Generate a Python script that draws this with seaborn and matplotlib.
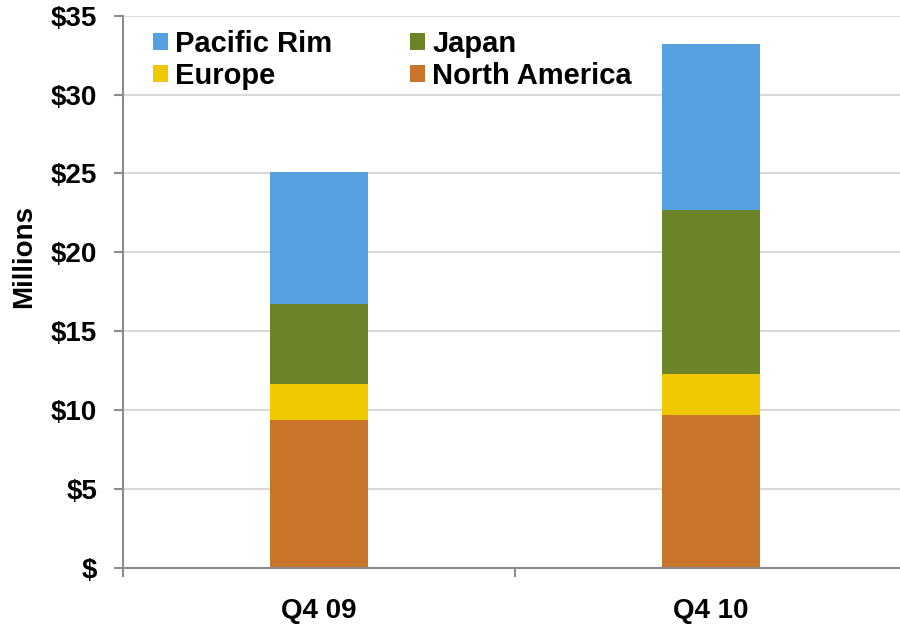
import matplotlib
matplotlib.use("Agg")
import matplotlib.pyplot as plt
from matplotlib.patches import Patch
from matplotlib.ticker import FixedLocator
import numpy as np
import pandas as pd
import seaborn as sns

# Quarterly revenue by region, in millions of dollars
quarters = ["Q4 09", "Q4 10"]
north_america = [9.37, 9.70]
europe = [2.30, 2.56]
japan = [5.07, 10.40]
pacific_rim = [8.33, 10.57]

regions = ["North America", "Europe", "Japan", "Pacific Rim"]
colors = {
    "North America": "#C87529",
    "Europe": "#F0C800",
    "Japan": "#6A8427",
    "Pacific Rim": "#55A0E0",
}
yticks = [0, 5, 10, 15, 20, 25, 30, 35]
ytick_labels = ["$", "$5", "$10", "$15", "$20", "$25", "$30", "$35"]

df = pd.DataFrame({
    "quarter": quarters,
    "North America": north_america,
    "Europe": europe,
    "Japan": japan,
    "Pacific Rim": pacific_rim,
})

sns.set_theme(style="white")
plt.rcParams["font.family"] = ["Liberation Sans", "DejaVu Sans"]
plt.rcParams["font.weight"] = "bold"
plt.rcParams["text.color"] = "black"
plt.rcParams["xtick.labelcolor"] = "black"
plt.rcParams["ytick.labelcolor"] = "black"

fig = plt.figure(figsize=(9, 6.25), dpi=100)
ax = fig.add_axes([0.1367, 0.0917, 0.871, 0.8832])

# Stack the regional segments bottom-up
bottom = np.zeros(len(quarters))
for region in regions:
    sns.barplot(data=df, x="quarter", y=region, ax=ax, color=colors[region],
                width=0.25, bottom=bottom, linewidth=0, saturation=1, zorder=3)
    bottom = bottom + df[region].to_numpy()

ax.set_xlim(-0.5, 1.5)
ax.set_ylim(0, 35)
ax.set_yticks(yticks)
ax.set_yticklabels(ytick_labels)
ax.yaxis.grid(True, color="#D9D9D9", linewidth=1.5, zorder=0)
ax.set_axisbelow(True)

for side in ["top", "right"]:
    ax.spines[side].set_visible(False)
for side in ["left", "bottom"]:
    ax.spines[side].set_color("#8C8C8C")
    ax.spines[side].set_linewidth(1.5)
    ax.spines[side].set_zorder(4)

ax.tick_params(axis="y", which="major", left=True, length=6.5, width=1.5,
               color="#8C8C8C", pad=12, labelsize=20, labelcolor="black")
ax.tick_params(axis="x", which="major", bottom=False, length=0, pad=22,
               labelsize=20, labelcolor="black")
ax.xaxis.set_minor_locator(FixedLocator([-0.5, 0.5, 1.5]))
ax.tick_params(axis="x", which="minor", bottom=True, length=6.5, width=1.5,
               color="#8C8C8C")
for lab in ax.get_xticklabels() + ax.get_yticklabels():
    lab.set_fontweight("bold")
ax.set_xlabel("")
ax.set_ylabel("")

fig.text(24 / 900, 1 - 256 / 625, "Millions", rotation=90, ha="center",
         va="center", fontsize=20, fontweight="bold", color="black")

legend_order = ["Pacific Rim", "Europe", "Japan", "North America"]
handles = [Patch(facecolor=colors[r], edgecolor="none", label=r) for r in legend_order]
leg = ax.legend(handles=handles, ncol=2, loc="upper left",
                bbox_to_anchor=(153 / 900, 1 - 30 / 625), bbox_transform=fig.transFigure,
                frameon=False, borderpad=0, borderaxespad=0,
                handlelength=0.51, handleheight=0.51, handletextpad=0.25,
                columnspacing=2.67, labelspacing=0.14,
                prop={"size": 21, "weight": "bold"})
for t in leg.get_texts():
    t.set_color("black")

fig.savefig("out.png", dpi=100)
